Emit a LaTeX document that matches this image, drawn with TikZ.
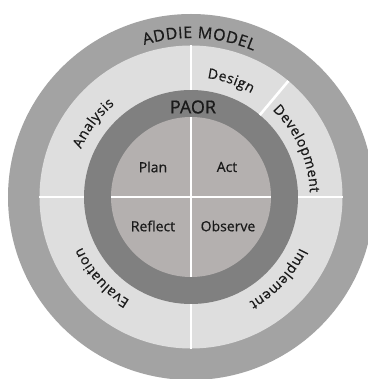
\documentclass[tikz,border=0pt]{standalone}
\usepackage{fontspec}
\setmainfont{Open Sans}[FakeBold=0.6]
\usepackage{xcolor}
\usetikzlibrary{decorations.text}

\definecolor{outergray}{HTML}{A3A3A3}
\definecolor{phasegray}{HTML}{DEDEDE}
\definecolor{paorgray}{HTML}{808080}
\definecolor{coregray}{HTML}{B4B0AF}
\definecolor{inkgray}{HTML}{1A1A1A}

\newcommand{\phasefont}{\fontsize{14}{14}\selectfont}
\newcommand{\titlefont}{\fontsize{16}{16}\selectfont}

\begin{document}
\begin{tikzpicture}[
    sep/.style={white,line width=2.6pt},
    core/.style={inkgray,font=\fontsize{14}{14}\selectfont,inner sep=0pt},
    curved/.style n args={2}{decorate,decoration={text effects along path,
        text={#2},text align=center,text effects/.cd,text along path,
        every character/.style={font=#1,text=inkgray,inner xsep=0.25pt},
        character widths={font=#1,inner xsep=0.25pt}}}]
        \useasboundingbox (-191pt,-182pt) rectangle (176pt,197pt);
        % rings
        \fill [outergray] (0,0) circle (183pt);
        \fill [phasegray] (0,0) circle (151.5pt);
        \fill [paorgray] (0,0) circle (107pt);
        \fill [coregray] (0,0) circle (80pt);
        % separators
        \foreach \a in {90,50,0,270,180}
            \draw [sep] (\a:107pt) -- (\a:151.5pt);
        \draw [sep] (90:80pt) -- (270:80pt);
        \draw [sep] (180:80pt) -- (0:80pt);
        % ADDIE model
        \path [curved={\titlefont}{ADDIE MODEL}] (125:159pt) arc (125:49:159pt);
        \path [curved={\phasefont}{Analysis}] (180:120pt) arc (180:106:120pt);
        \path [curved={\phasefont}{Design}] (90:120pt) arc (90:52:120pt);
        \path [curved={\phasefont}{Development}] (50:119pt) arc (50:-1:119pt);
        \path [curved={\phasefont}{Implement}] (357:120pt) arc (357:277:120pt);
        \path [curved={\phasefont}{Evaluation}] (264:120pt) arc (264:180:120pt);
        % PAOR
        \node [inkgray,font=\fontsize{18}{18}\selectfont] (paor) at (2pt,90pt) {PAOR};
        \node [core] (plan) at (-38pt,30pt) {Plan};
        \node [core] (act) at (36pt,30pt) {Act};
        \node [core] (reflect) at (-38pt,-29pt) {Reflect};
        \node [core] (observe) at (37pt,-29pt) {Observe};
\end{tikzpicture}
\end{document}
